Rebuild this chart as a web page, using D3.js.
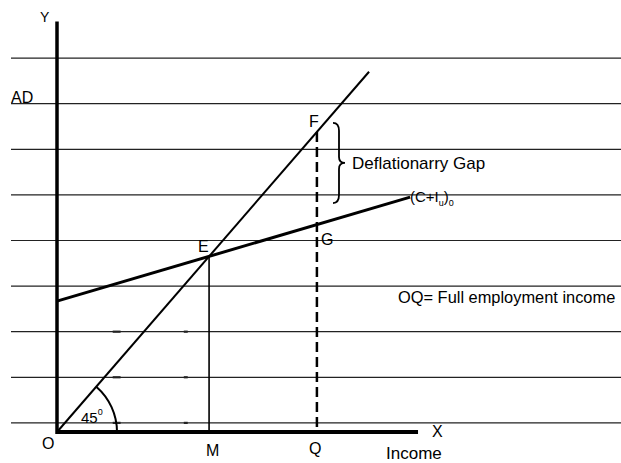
<!DOCTYPE html>
<html>
<head>
<meta charset="utf-8">
<script src="https://cdn.jsdelivr.net/npm/d3@7/dist/d3.min.js"></script>
<style>
    html, body { margin: 0; padding: 0; background: #fff; }
    svg { display: block; font-family: 'Liberation Sans', Arial, sans-serif; }
</style>
</head>
<body>
<div class="js-canvas"></div>
<script>
'use strict';

// ruled lines across the page, in AD units
const gridLevels = [2, 12, 22, 32, 42, 52, 62, 72, 82];
// rules that carry small stray marks
const markedLevels = [2, 12, 22];

// 45 degree line (Y = AD) runs from O up to this income
const line45End = 79;

// (C+I)0 aggregate demand line
const adIncome = [0, 89.4];
const adValue = [28.7, 51.5];

// incomes on the x axis
const incomeM = 38.5;   // equilibrium, E
const incomeQ = 65.8;   // full employment, F / G

// axis lengths
const xAxisMax = 91.4;
const yAxisMax = 90;

// deflationary gap brace span
const braceSpan = [50.2, 67.8];

const width = 621;
const height = 463;

const svg = d3.select('.js-canvas')
    .append('svg')
    .attr('width', width)
    .attr('height', height);

// scales
const x = d3.scaleLinear().domain([0, 100]).range([57, 452]);
const y = d3.scaleLinear().domain([0, 100]).range([432, -24]);

const adAt = v => adValue[0] + (v - adIncome[0]) * (adValue[1] - adValue[0]) / (adIncome[1] - adIncome[0]);

// ruled lines
svg.append('g')
    .selectAll('line')
    .data(gridLevels)
    .enter()
    .append('line')
    .attr('x1', 11)
    .attr('x2', width)
    .attr('y1', d => y(d))
    .attr('y2', d => y(d))
    .attr('stroke', '#222')
    .attr('stroke-width', 1.2);

// stray marks on the lower rules
const marks = svg.append('g');
marks.selectAll('.mark-a')
    .data(markedLevels)
    .enter()
    .append('line')
    .attr('x1', x(14.1)).attr('x2', x(16.1))
    .attr('y1', d => y(d)).attr('y2', d => y(d))
    .attr('stroke', '#222').attr('stroke-width', 2.2);
marks.selectAll('.mark-b')
    .data(markedLevels)
    .enter()
    .append('line')
    .attr('x1', x(32.1)).attr('x2', x(33.1))
    .attr('y1', d => y(d)).attr('y2', d => y(d))
    .attr('stroke', '#222').attr('stroke-width', 2.2);

// axes
svg.append('line')
    .attr('x1', x(0)).attr('x2', x(0))
    .attr('y1', y(yAxisMax)).attr('y2', y(0) + 2)
    .attr('stroke', '#000').attr('stroke-width', 3.5);

svg.append('line')
    .attr('x1', x(0) - 1).attr('x2', x(xAxisMax))
    .attr('y1', y(0)).attr('y2', y(0))
    .attr('stroke', '#000').attr('stroke-width', 4);

// 45 degree line
svg.append('line')
    .attr('x1', x(0)).attr('y1', y(0))
    .attr('x2', x(line45End)).attr('y2', y(line45End))
    .attr('stroke', '#000').attr('stroke-width', 2);

// (C+I)0 line
svg.append('line')
    .attr('x1', x(adIncome[0])).attr('y1', y(adValue[0]))
    .attr('x2', x(adIncome[1])).attr('y2', y(adValue[1]))
    .attr('stroke', '#000').attr('stroke-width', 3);

// E to M
svg.append('line')
    .attr('x1', x(incomeM)).attr('x2', x(incomeM))
    .attr('y1', y(adAt(incomeM))).attr('y2', y(0))
    .attr('stroke', '#000').attr('stroke-width', 1.6);

// F to Q, dashed
svg.append('line')
    .attr('x1', x(incomeQ)).attr('x2', x(incomeQ))
    .attr('y1', y(incomeQ)).attr('y2', y(0) - 3)
    .attr('stroke', '#000').attr('stroke-width', 2.5)
    .attr('stroke-dasharray', '10,5');

// 45 degree arc
const angle = Math.atan2(y(line45End) - y(0), x(line45End) - x(0));
const arcPath = d3.path();
arcPath.moveTo(x(0) + 60, y(0));
arcPath.arc(x(0), y(0), 60, 0, angle, true);
svg.append('path')
    .attr('d', arcPath.toString())
    .attr('fill', 'none')
    .attr('stroke', '#000')
    .attr('stroke-width', 2);

// brace for the gap
const bTop = y(braceSpan[1]);
const bBot = y(braceSpan[0]);
const bMid = (bTop + bBot) / 2;
const bx0 = 333, bx1 = 339, bx2 = 345;
const brace = d3.path();
brace.moveTo(bx0, bTop);
brace.quadraticCurveTo(bx1, bTop, bx1, bTop + 8);
brace.lineTo(bx1, bMid - 6);
brace.quadraticCurveTo(bx1, bMid, bx2, bMid);
brace.quadraticCurveTo(bx1, bMid, bx1, bMid + 6);
brace.lineTo(bx1, bBot - 8);
brace.quadraticCurveTo(bx1, bBot, bx0, bBot);
svg.append('path')
    .attr('d', brace.toString())
    .attr('fill', 'none')
    .attr('stroke', '#000')
    .attr('stroke-width', 1.8);

// labels
const label = (tx, ty, str, size) => svg.append('text')
    .attr('x', tx)
    .attr('y', ty)
    .attr('font-size', size)
    .attr('fill', '#000')
    .text(str);

label(40, 22, 'Y', 14);
label(11, 103, 'AD', 16);
label(309, 127, 'F', 16);
label(198, 252, 'E', 16);
label(321, 245, 'G', 16);
label(42, 449, 'O', 16);
label(206, 456, 'M', 16);
label(309, 454, 'Q', 16);
label(432, 437, 'X', 16);
label(386, 459, 'Income', 17);
label(352, 169, 'Deflationarry Gap', 17);
label(398, 303, 'OQ= Full employment income', 16.4);

const deg = label(81, 423, '45', 15);
deg.append('tspan')
    .attr('font-size', 9)
    .attr('dy', -8)
    .text('0');

const ci = label(410, 202, '(C+I', 15);
ci.append('tspan').attr('font-size', 9).attr('dy', 4).text('u');
ci.append('tspan').attr('font-size', 15).attr('dy', -4).text(')');
ci.append('tspan').attr('font-size', 9).attr('dy', 4).text('0');
</script>
</body>
</html>
